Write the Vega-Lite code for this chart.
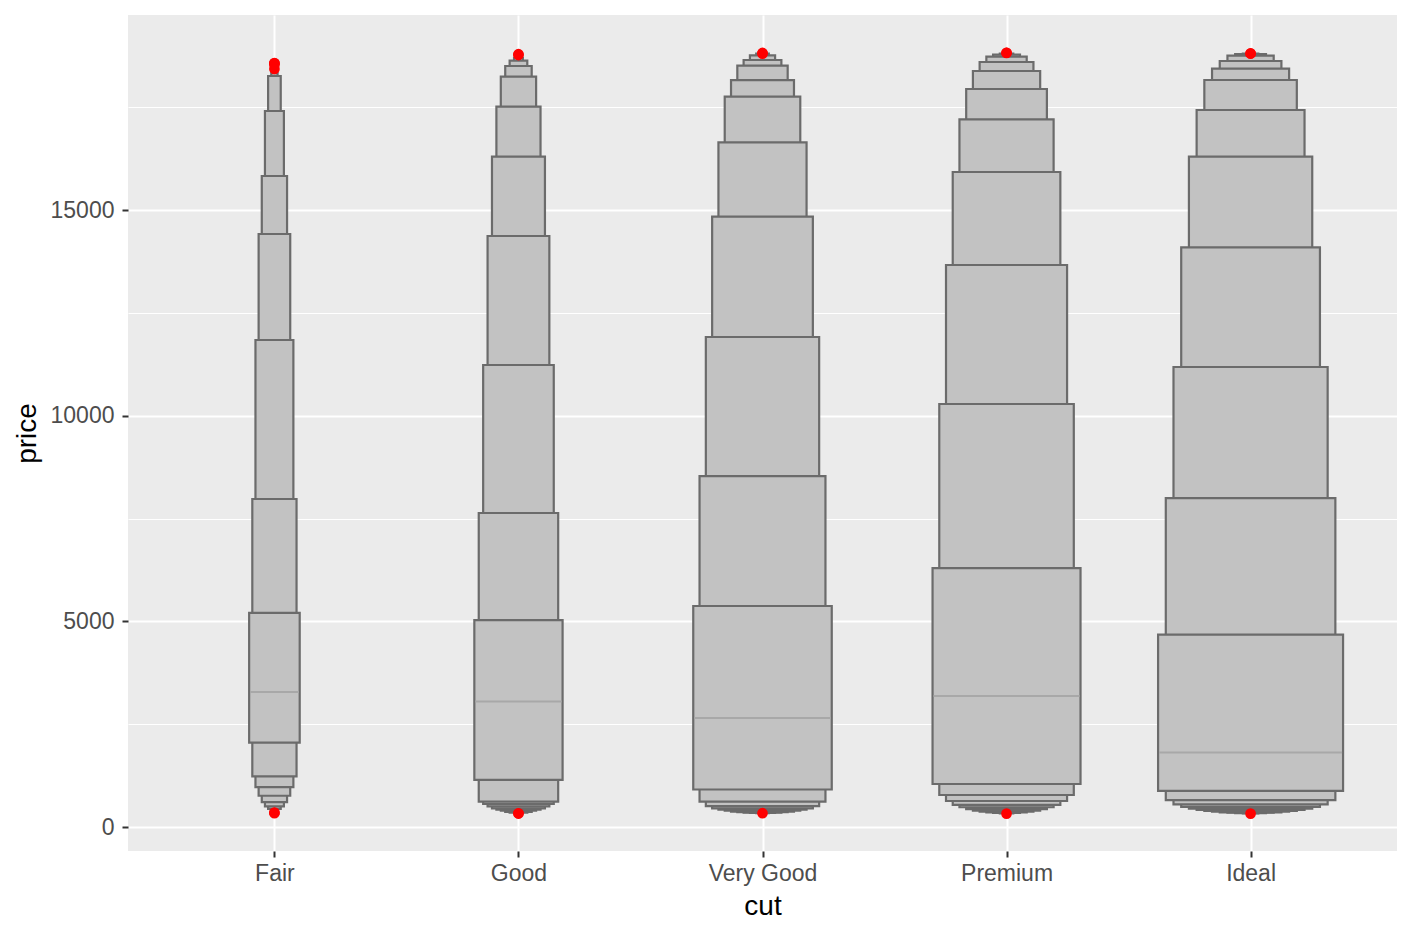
{
  "$schema": "https://vega.github.io/schema/vega-lite/v6.json",
  "width": 1269,
  "height": 836,
  "autosize": {"type": "none"},
  "padding": {"left": 128, "top": 15, "right": 15, "bottom": 85},
  "background": "white",
  "config": {
    "view": {"fill": "#EBEBEB", "stroke": null},
    "font": "Liberation Sans",
    "axis": {
      "domain": false,
      "gridColor": "white",
      "tickColor": "#333333",
      "tickSize": 6,
      "tickWidth": 2,
      "labelColor": "#4D4D4D",
      "labelFontSize": 23,
      "titleFontSize": 28,
      "titleFontWeight": "normal",
      "titleColor": "black"
    }
  },
  "datasets": {
    "lv": [
      {"cut": "Fair", "n": 1610, "level": 1, "lower": 2050, "upper": 5205},
      {"cut": "Fair", "n": 1610, "level": 2, "lower": 1230, "upper": 7974},
      {"cut": "Fair", "n": 1610, "level": 3, "lower": 970, "upper": 11840},
      {"cut": "Fair", "n": 1610, "level": 4, "lower": 760, "upper": 14417},
      {"cut": "Fair", "n": 1610, "level": 5, "lower": 605, "upper": 15827},
      {"cut": "Fair", "n": 1610, "level": 6, "lower": 500, "upper": 17407},
      {"cut": "Fair", "n": 1610, "level": 7, "lower": 440, "upper": 18258},
      {"cut": "Fair", "n": 1610, "level": 8, "lower": 390, "upper": 18330},
      {"cut": "Good", "n": 4906, "level": 1, "lower": 1145, "upper": 5028},
      {"cut": "Good", "n": 4906, "level": 2, "lower": 616, "upper": 7634},
      {"cut": "Good", "n": 4906, "level": 3, "lower": 560, "upper": 11232},
      {"cut": "Good", "n": 4906, "level": 4, "lower": 500, "upper": 14368},
      {"cut": "Good", "n": 4906, "level": 5, "lower": 455, "upper": 16297},
      {"cut": "Good", "n": 4906, "level": 6, "lower": 420, "upper": 17512},
      {"cut": "Good", "n": 4906, "level": 7, "lower": 395, "upper": 18242},
      {"cut": "Good", "n": 4906, "level": 8, "lower": 370, "upper": 18501},
      {"cut": "Good", "n": 4906, "level": 9, "lower": 352, "upper": 18630},
      {"cut": "Good", "n": 4906, "level": 10, "lower": 340, "upper": 18700},
      {"cut": "Very Good", "n": 12082, "level": 1, "lower": 912, "upper": 5373},
      {"cut": "Very Good", "n": 12082, "level": 2, "lower": 616, "upper": 8533},
      {"cut": "Very Good", "n": 12082, "level": 3, "lower": 510, "upper": 11913},
      {"cut": "Very Good", "n": 12082, "level": 4, "lower": 455, "upper": 14837},
      {"cut": "Very Good", "n": 12082, "level": 5, "lower": 420, "upper": 16645},
      {"cut": "Very Good", "n": 12082, "level": 6, "lower": 395, "upper": 17755},
      {"cut": "Very Good", "n": 12082, "level": 7, "lower": 375, "upper": 18160},
      {"cut": "Very Good", "n": 12082, "level": 8, "lower": 360, "upper": 18509},
      {"cut": "Very Good", "n": 12082, "level": 9, "lower": 350, "upper": 18647},
      {"cut": "Very Good", "n": 12082, "level": 10, "lower": 342, "upper": 18761},
      {"cut": "Very Good", "n": 12082, "level": 11, "lower": 338, "upper": 18800},
      {"cut": "Premium", "n": 13791, "level": 1, "lower": 1046, "upper": 6296},
      {"cut": "Premium", "n": 13791, "level": 2, "lower": 778, "upper": 10284},
      {"cut": "Premium", "n": 13791, "level": 3, "lower": 632, "upper": 13663},
      {"cut": "Premium", "n": 13791, "level": 4, "lower": 540, "upper": 15924},
      {"cut": "Premium", "n": 13791, "level": 5, "lower": 480, "upper": 17205},
      {"cut": "Premium", "n": 13791, "level": 6, "lower": 435, "upper": 17942},
      {"cut": "Premium", "n": 13791, "level": 7, "lower": 400, "upper": 18380},
      {"cut": "Premium", "n": 13791, "level": 8, "lower": 375, "upper": 18598},
      {"cut": "Premium", "n": 13791, "level": 9, "lower": 355, "upper": 18727},
      {"cut": "Premium", "n": 13791, "level": 10, "lower": 342, "upper": 18776},
      {"cut": "Premium", "n": 13791, "level": 11, "lower": 334, "upper": 18800},
      {"cut": "Ideal", "n": 21551, "level": 1, "lower": 878, "upper": 4678},
      {"cut": "Ideal", "n": 21551, "level": 2, "lower": 656, "upper": 7998},
      {"cut": "Ideal", "n": 21551, "level": 3, "lower": 551, "upper": 11183},
      {"cut": "Ideal", "n": 21551, "level": 4, "lower": 490, "upper": 14093},
      {"cut": "Ideal", "n": 21551, "level": 5, "lower": 448, "upper": 16297},
      {"cut": "Ideal", "n": 21551, "level": 6, "lower": 415, "upper": 17431},
      {"cut": "Ideal", "n": 21551, "level": 7, "lower": 390, "upper": 18161},
      {"cut": "Ideal", "n": 21551, "level": 8, "lower": 372, "upper": 18436},
      {"cut": "Ideal", "n": 21551, "level": 9, "lower": 358, "upper": 18623},
      {"cut": "Ideal", "n": 21551, "level": 10, "lower": 347, "upper": 18751},
      {"cut": "Ideal", "n": 21551, "level": 11, "lower": 339, "upper": 18790},
      {"cut": "Ideal", "n": 21551, "level": 12, "lower": 333, "upper": 18800}
    ],
    "med": [
      {"cut": "Fair", "n": 1610, "median": 3282},
      {"cut": "Good", "n": 4906, "median": 3050},
      {"cut": "Very Good", "n": 12082, "median": 2648},
      {"cut": "Premium", "n": 13791, "median": 3185},
      {"cut": "Ideal", "n": 21551, "median": 1810}
    ],
    "out": [
      {"cut": "Fair", "price": 18574},
      {"cut": "Fair", "price": 18565},
      {"cut": "Fair", "price": 18531},
      {"cut": "Fair", "price": 18430},
      {"cut": "Fair", "price": 351},
      {"cut": "Fair", "price": 337},
      {"cut": "Good", "price": 18788},
      {"cut": "Good", "price": 18768},
      {"cut": "Good", "price": 335},
      {"cut": "Good", "price": 327},
      {"cut": "Very Good", "price": 18818},
      {"cut": "Very Good", "price": 18803},
      {"cut": "Very Good", "price": 336},
      {"cut": "Premium", "price": 18823},
      {"cut": "Premium", "price": 18818},
      {"cut": "Premium", "price": 326},
      {"cut": "Ideal", "price": 18806},
      {"cut": "Ideal", "price": 18804},
      {"cut": "Ideal", "price": 326}
    ]
  },
  "layer": [
    {
      "data": {"name": "lv"},
      "transform": [
        {"calculate": "indexof(['Fair','Good','Very Good','Premium','Ideal'], datum.cut) + 1", "as": "idx"},
        {"joinaggregate": [{"op": "max", "field": "level", "as": "k"}], "groupby": ["cut"]},
        {"calculate": "0.379 * sqrt(datum.n / 21551) * (datum.k - datum.level + 1) / datum.k", "as": "hw"},
        {"calculate": "datum.idx - datum.hw", "as": "x0"},
        {"calculate": "datum.idx + datum.hw", "as": "x1"}
      ],
      "mark": {"type": "rect", "fill": "#C2C2C2", "stroke": "#6B6B6B", "strokeWidth": 2.2},
      "encoding": {
        "x": {
          "field": "x0", "type": "quantitative",
          "scale": {"domain": [0.4, 5.6], "nice": false, "zero": false},
          "axis": {
            "values": [1, 2, 3, 4, 5],
            "labelExpr": "['Fair','Good','Very Good','Premium','Ideal'][datum.value - 1]",
            "grid": true,
            "gridWidth": 2,
            "labelPadding": 5,
            "title": "cut",
            "titlePadding": 7
          }
        },
        "x2": {"field": "x1"},
        "y": {
          "field": "lower", "type": "quantitative",
          "scale": {"domain": [-583, 19741], "nice": false, "zero": false},
          "axis": {
            "values": [0, 2500, 5000, 7500, 10000, 12500, 15000, 17500],
            "format": "d",
            "labelExpr": "datum.value % 5000 == 0 ? datum.label : ''",
            "grid": true,
            "gridWidth": {"condition": {"test": "datum.value % 5000 == 0", "value": 2}, "value": 1},
            "tickOpacity": {"condition": {"test": "datum.value % 5000 == 0", "value": 1}, "value": 0},
            "labelPadding": 8,
            "title": "price",
            "titlePadding": 9
          }
        },
        "y2": {"field": "upper"},
        "order": {"field": "level", "sort": "descending"}
      }
    },
    {
      "data": {"name": "med"},
      "transform": [
        {"calculate": "indexof(['Fair','Good','Very Good','Premium','Ideal'], datum.cut) + 1", "as": "idx"},
        {"calculate": "0.379 * sqrt(datum.n / 21551)", "as": "hw"},
        {"calculate": "datum.idx - datum.hw + 0.004", "as": "x0"},
        {"calculate": "datum.idx + datum.hw - 0.004", "as": "x1"}
      ],
      "mark": {"type": "rule", "color": "#A8A8A8", "strokeWidth": 2},
      "encoding": {
        "x": {"field": "x0", "type": "quantitative"},
        "x2": {"field": "x1"},
        "y": {"field": "median", "type": "quantitative"}
      }
    },
    {
      "data": {"name": "out"},
      "transform": [
        {"calculate": "indexof(['Fair','Good','Very Good','Premium','Ideal'], datum.cut) + 1", "as": "idx"}
      ],
      "mark": {"type": "circle", "color": "#FF0000", "opacity": 1, "size": 115},
      "encoding": {
        "x": {"field": "idx", "type": "quantitative"},
        "y": {"field": "price", "type": "quantitative"}
      }
    }
  ]
}
